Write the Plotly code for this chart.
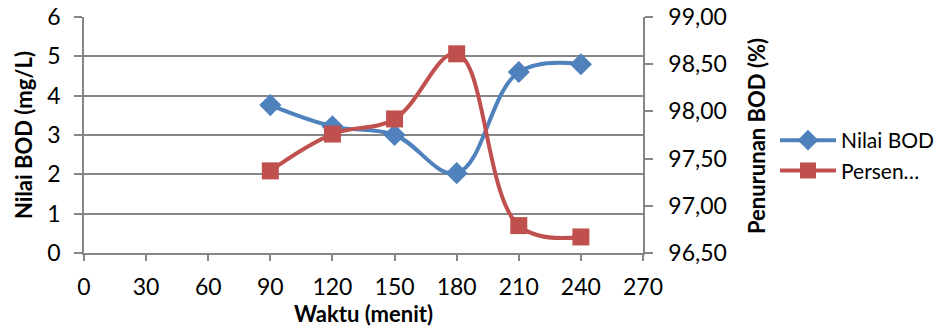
import plotly.graph_objects as go

waktu = [90, 120, 150, 180, 210, 240]
nilai_bod = [3.76, 3.22, 3.0, 2.03, 4.6, 4.8]
persen_penurunan = [97.37, 97.76, 97.92, 98.61, 96.79, 96.67]

x_ticks = [0, 30, 60, 90, 120, 150, 180, 210, 240, 270]
y_left_ticks = [0, 1, 2, 3, 4, 5, 6]
y_right_ticks = [96.5, 97.0, 97.5, 98.0, 98.5, 99.0]
y_right_labels = ["96,50", "97,00", "97,50", "98,00", "98,50", "99,00"]

BLUE = "#4F81BD"
RED = "#C0504D"
GRAY = "#868686"
FONT = "Lato, 'Open Sans', sans-serif"
TICK_SIZE = 23
TITLE_SIZE = 22

W, H = 943, 329
L, R, T, B = 84, 300, 17, 76
PW, PH = W - L - R, H - T - B


def px_x(win_x):
    return (win_x - L) / PW


def px_y(win_y):
    return (H - B - win_y) / PH


fig = go.Figure()
fig.add_trace(go.Scatter(
    x=waktu, y=nilai_bod, name="Nilai BOD", mode="lines+markers",
    line=dict(color=BLUE, width=4, shape="spline", smoothing=1.1),
    marker=dict(symbol="diamond", size=17, color=BLUE),
    yaxis="y",
))
fig.add_trace(go.Scatter(
    x=waktu, y=persen_penurunan, name="Persen…", mode="lines+markers",
    line=dict(color=RED, width=4, shape="spline", smoothing=1.1),
    marker=dict(symbol="square", size=17, color=RED),
    yaxis="y2",
))

fig.update_layout(
    width=W, height=H,
    margin=dict(l=L, r=R, t=T, b=B, autoexpand=False),
    paper_bgcolor="white", plot_bgcolor="white",
    font=dict(family=FONT, size=TICK_SIZE, color="black"),
    showlegend=True,
    legend=dict(
        xref="container", yref="container",
        x=775 / W, y=1 - 120 / H, xanchor="left", yanchor="top",
        font=dict(size=21), itemwidth=56, bgcolor="rgba(0,0,0,0)",
    ),
    xaxis=dict(
        range=[0, 270], tickvals=x_ticks, ticktext=[str(v) for v in x_ticks],
        showgrid=False, zeroline=False, automargin=False,
        showline=True, linecolor=GRAY, linewidth=1.5,
        ticks="outside", ticklen=6, tickcolor=GRAY, tickwidth=1.5,
        ticklabelstandoff=7, ticklabeloverflow="allow",
    ),
    yaxis=dict(
        range=[0, 6], tickvals=y_left_ticks, ticktext=[str(v) for v in y_left_ticks],
        showgrid=True, gridcolor=GRAY, gridwidth=1.5, zeroline=False, automargin=False,
        showline=True, linecolor=GRAY, linewidth=1.5,
        ticks="outside", ticklen=8, tickcolor=GRAY, tickwidth=1.5,
        ticklabelstandoff=9, ticklabeloverflow="allow",
    ),
    yaxis2=dict(
        range=[96.5, 99.0], overlaying="y", side="right", automargin=False,
        tickvals=y_right_ticks, ticktext=y_right_labels,
        showgrid=False, zeroline=False,
        showline=True, linecolor=GRAY, linewidth=1.5,
        ticks="outside", ticklen=8, tickcolor=GRAY, tickwidth=1.5,
        ticklabelstandoff=11, ticklabeloverflow="allow",
    ),
    annotations=[
        dict(text="<b>Waktu (menit)</b>", xref="paper", yref="paper",
             x=0.5, y=px_y(313), xanchor="center", yanchor="middle",
             showarrow=False, font=dict(size=TITLE_SIZE)),
        dict(text="<b>Nilai BOD (mg/L)</b>", xref="paper", yref="paper",
             x=px_x(23), y=px_y(135), xanchor="center", yanchor="middle", textangle=-90,
             showarrow=False, font=dict(size=TITLE_SIZE)),
        dict(text="<b>Penurunan BOD (%)</b>", xref="paper", yref="paper",
             x=px_x(756), y=px_y(136), xanchor="center", yanchor="middle", textangle=-90,
             showarrow=False, font=dict(size=TITLE_SIZE)),
    ],
)

fig.write_html(
    "out.html",
    config={"displayModeBar": False},
    post_script="document.body.style.margin='0';document.body.style.overflow='hidden';",
)
